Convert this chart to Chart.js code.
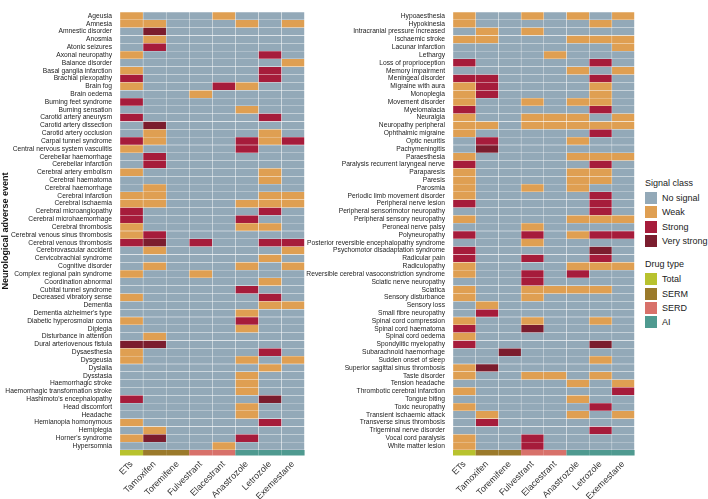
<!DOCTYPE html>
<html>
<head>
<meta charset="utf-8">
<script src="https://cdn.jsdelivr.net/npm/chart.js@4.4.1/dist/chart.umd.min.js"></script>
<style>
  body{margin:0;background:#fff;font-family:"Liberation Sans",Arial,sans-serif;}
  #wrap{position:relative;width:708px;height:499px;overflow:hidden;}
  canvas{position:absolute;top:0;}
  #legend{position:absolute;left:645px;top:177px;font-size:9px;color:#222;}
  .lg-title{height:12px;line-height:12px;margin-bottom:2px;}
  .lg-row{display:flex;align-items:center;height:14.3px;}
  .lg-sw{width:12px;height:12px;margin-right:5px;}
  .lg-gap{height:10px;}
</style>
</head>
<body>
<div id="wrap">
  <canvas id="leftChart" width="310" height="499" style="left:0"></canvas>
  <canvas id="rightChart" width="360" height="499" style="left:280px"></canvas>
  <div id="legend"></div>
</div>
<script>
// === DATI ===
const drugs = ["ETs","Tamoxifen","Toremifene","Fulvestrant","Elacestrant","Anastrozole","Letrozole","Exemestane"];
const drugTypes = ["Total","SERM","SERM","SERD","SERD","AI","AI","AI"];
const signalLabels = ["No signal","Weak","Strong","Very strong"];
const signalColors = ["#93a9b8","#df9f52","#a61c3b","#7b1d2e"];
const typeLabels = ["Total","SERM","SERD","AI"];
const typeColors = ["#b8c22e","#9b7a2b","#d8716a","#4f9a90"];

const leftEvents = ["Ageusia","Amnesia","Amnestic disorder","Anosmia","Atonic seizures","Axonal neuropathy",
  "Balance disorder","Basal ganglia infarction","Brachial plexopathy","Brain fog","Brain oedema",
  "Burning feet syndrome","Burning sensation","Carotid artery aneurysm","Carotid artery dissection",
  "Carotid artery occlusion","Carpal tunnel syndrome","Central nervous system vasculitis",
  "Cerebellar haemorrhage","Cerebellar infarction","Cerebral artery embolism","Cerebral haematoma",
  "Cerebral haemorrhage","Cerebral infarction","Cerebral ischaemia","Cerebral microangiopathy",
  "Cerebral microhaemorrhage","Cerebral thrombosis","Cerebral venous sinus thrombosis",
  "Cerebral venous thrombosis","Cerebrovascular accident","Cervicobrachial syndrome","Cognitive disorder",
  "Complex regional pain syndrome","Coordination abnormal","Cubital tunnel syndrome",
  "Decreased vibratory sense","Dementia","Dementia alzheimer's type","Diabetic hyperosmolar coma",
  "Diplegia","Disturbance in attention","Dural arteriovenous fistula","Dysaesthesia","Dysgeusia",
  "Dyslalia","Dysstasia","Haemorrhagic stroke","Haemorrhagic transformation stroke",
  "Hashimoto's encephalopathy","Head discomfort","Headache","Hemianopia homonymous","Hemiplegia",
  "Horner's syndrome","Hypersomnia"];

const rightEvents = ["Hypoaesthesia","Hypokinesia","Intracranial pressure increased","Ischaemic stroke",
  "Lacunar infarction","Lethargy","Loss of proprioception","Memory impairment","Meningeal disorder",
  "Migraine with aura","Monoplegia","Movement disorder","Myelomalacia","Neuralgia","Neuropathy peripheral",
  "Ophthalmic migraine","Optic neuritis","Pachymeningitis","Paraesthesia",
  "Paralysis recurrent laryngeal nerve","Paraparesis","Paresis","Parosmia",
  "Periodic limb movement disorder","Peripheral nerve lesion","Peripheral sensorimotor neuropathy",
  "Peripheral sensory neuropathy","Peroneal nerve palsy","Polyneuropathy",
  "Posterior reversible encephalopathy syndrome","Psychomotor disadaptation syndrome","Radicular pain",
  "Radiculopathy","Reversible cerebral vasoconstriction syndrome","Sciatic nerve neuropathy","Sciatica",
  "Sensory disturbance","Sensory loss","Small fibre neuropathy","Spinal cord compression",
  "Spinal cord haematoma","Spinal cord oedema","Spondylitic myelopathy","Subarachnoid haemorrhage",
  "Sudden onset of sleep","Superior sagittal sinus thrombosis","Taste disorder","Tension headache",
  "Thrombotic cerebral infarction","Tongue biting","Toxic neuropathy","Transient ischaemic attack",
  "Transverse sinus thrombosis","Trigeminal nerve disorder","Vocal cord paralysis","White matter lesion"];

// 0 = no signal, 1 = weak, 2 = strong, 3 = very strong (one row per event, one column per drug)
const leftSignals = [
  [1,0,0,0,1,0,0,0],[1,1,0,0,0,1,0,1],[0,3,0,0,0,0,0,0],[0,1,0,0,0,0,0,0],[0,2,0,0,0,0,0,0],
  [1,0,0,0,0,0,2,0],[0,0,0,0,0,0,0,1],[1,0,0,0,0,0,2,0],[2,0,0,0,0,0,2,0],[1,0,0,0,2,1,0,0],
  [0,0,0,1,0,0,0,0],[2,0,0,0,0,0,0,0],[0,0,0,0,0,1,0,0],[2,0,0,0,0,0,2,0],[0,3,0,0,0,0,0,0],
  [0,1,0,0,0,0,1,0],[2,1,0,0,0,2,1,2],[1,0,0,0,0,2,0,0],[0,2,0,0,0,0,0,0],[0,2,0,0,0,0,0,0],
  [1,0,0,0,0,0,1,0],[0,0,0,0,0,0,1,0],[0,1,0,0,0,0,0,0],[1,1,0,0,0,0,1,1],[1,1,0,0,0,1,1,1],
  [2,0,0,0,0,0,2,0],[2,0,0,0,0,2,0,0],[1,0,0,0,0,1,1,0],[1,2,0,0,0,0,0,0],[2,3,0,2,0,0,2,2],
  [0,1,0,0,0,0,0,1],[0,0,0,0,0,0,1,0],[0,1,0,0,0,1,0,1],[1,0,0,1,0,0,0,0],[0,0,0,0,0,0,1,0],
  [0,0,0,0,0,2,0,0],[1,0,0,0,0,0,2,0],[0,0,0,0,0,0,1,1],[0,0,0,0,0,1,0,0],[1,0,0,0,0,2,0,0],
  [0,0,0,0,0,1,0,0],[0,1,0,0,0,0,0,0],[3,3,0,0,0,0,0,0],[1,0,0,0,0,0,2,0],[1,0,0,0,0,1,0,1],
  [0,0,0,0,0,0,1,0],[0,0,0,0,0,1,0,0],[0,0,0,0,0,1,0,0],[0,0,0,0,0,1,0,0],[2,0,0,0,0,0,3,0],
  [0,0,0,0,0,1,0,0],[0,0,0,0,0,1,0,0],[1,0,0,0,0,0,2,0],[0,1,0,0,0,0,0,0],[1,3,0,0,0,2,0,0],
  [0,0,0,0,1,0,0,0]];

const rightSignals = [
  [1,0,0,1,0,1,0,1],[1,0,0,0,0,0,1,0],[0,1,0,1,0,0,0,0],[1,1,0,0,0,1,1,1],[0,0,0,0,0,0,0,1],
  [0,0,0,0,1,0,0,0],[2,0,0,0,0,0,2,0],[0,0,0,0,0,1,0,1],[2,2,0,0,0,0,2,0],[1,2,0,0,0,0,1,0],
  [1,2,0,0,0,0,1,0],[1,0,0,1,0,1,1,0],[2,0,0,0,0,0,2,0],[1,0,0,1,1,1,0,1],[1,1,0,1,1,1,1,1],
  [1,0,0,0,0,0,2,0],[0,2,0,0,0,1,0,0],[0,3,0,0,0,0,0,0],[1,0,0,0,0,1,1,1],[2,0,0,0,0,0,2,0],
  [1,0,0,0,0,1,1,0],[1,0,0,0,0,1,1,0],[1,0,0,1,0,1,0,0],[1,0,0,0,0,0,2,0],[2,0,0,0,0,0,2,0],
  [0,0,0,0,0,0,2,0],[1,0,0,0,0,1,1,1],[0,0,0,1,0,0,0,0],[2,0,0,2,0,1,2,2],[0,0,0,1,0,0,0,0],
  [2,0,0,0,0,0,3,0],[2,0,0,2,0,0,2,0],[1,0,0,0,0,1,1,1],[1,0,0,2,0,2,0,0],[0,0,0,2,0,0,0,0],
  [1,0,0,1,1,1,1,0],[1,0,0,1,0,0,0,0],[0,1,0,0,0,0,0,0],[0,2,0,0,0,0,0,0],[1,0,0,1,0,0,1,0],
  [2,0,0,3,0,0,0,0],[1,0,0,0,0,0,0,0],[2,0,0,0,0,0,3,0],[0,0,3,0,0,0,0,0],[0,0,0,0,0,0,1,0],
  [1,3,0,0,0,0,0,0],[1,0,0,1,1,0,1,0],[0,0,0,0,0,1,0,1],[1,0,0,0,0,0,0,2],[0,0,0,0,0,1,0,0],
  [1,0,0,0,0,0,2,0],[0,1,0,0,0,1,0,1],[0,2,0,0,0,0,0,0],[0,0,0,0,0,0,2,0],[1,0,0,2,0,0,0,0],
  [1,0,0,2,0,0,0,0]];

const FONT = "'Liberation Sans', Arial, sans-serif";

// === STRISCIA TIPO FARMACO (sotto l'area del grafico) ===
const drugStrip = {
  id:"drugStrip",
  afterDatasetsDraw(chart){
    const {ctx,chartArea,scales:{x}} = chart;
    ctx.save();
    drugTypes.forEach((t,i)=>{
      const x0=x.getPixelForValue(i), x1=x.getPixelForValue(i+1);
      ctx.fillStyle=typeColors[typeLabels.indexOf(t)];
      ctx.fillRect(x0,chartArea.bottom,x1-x0,5.5);
    });
    ctx.restore();
  }
};

// === DATASET: una colonna per farmaco ===
function buildDatasets(signals){
  return drugs.map((d,c)=>({
    label:d,
    data:signals.map(()=>[c,c+1]),
    backgroundColor:signals.map(r=>signalColors[r[c]]),
    borderColor:"rgba(255,255,255,0.22)",
    borderWidth:0.5,
    borderSkipped:false,
    grouped:false,
    barPercentage:1,
    categoryPercentage:1
  }));
}

function makeHeatmap(id,events,signals,labelWidth,rightPad,showTitle){
  return new Chart(document.getElementById(id),{
    type:"bar",
    data:{labels:events,datasets:buildDatasets(signals)},
    plugins:[drugStrip],
    options:{
      indexAxis:"y",
      responsive:false,
      animation:false,
      layout:{padding:{top:2,right:rightPad,left:0,bottom:0}},
      plugins:{legend:{display:false},tooltip:{enabled:false}},
      scales:{
        x:{
          type:"linear",min:0,max:drugs.length,
          grid:{display:false,drawTicks:false},
          border:{display:false},
          afterBuildTicks:s=>{s.ticks=drugs.map((d,i)=>({value:i+0.5}));},
          afterFit:s=>{s.height=49;},
          ticks:{
            autoSkip:false,minRotation:45,maxRotation:45,padding:9,
            color:"#333",font:{family:FONT,size:9},
            callback:v=>drugs[Math.floor(v)]
          }
        },
        y:{
          grid:{display:false,drawTicks:false},
          border:{display:false},
          afterFit:s=>{s.width=labelWidth;},
          ticks:{autoSkip:false,padding:8,color:"#222",font:{family:FONT,size:6.7}},
          title:{display:showTitle,text:"Neurological adverse event",color:"#111",
            padding:{top:0,bottom:2},font:{family:FONT,size:9,weight:"bold"}}
        }
      }
    }
  });
}

// === LEGENDA ===
function buildLegend(){
  const el=document.getElementById("legend");
  let html='<div class="lg-title">Signal class</div>';
  signalLabels.forEach((l,i)=>{html+=`<div class="lg-row"><div class="lg-sw" style="background:${signalColors[i]}"></div>${l}</div>`;});
  html+='<div class="lg-gap"></div><div class="lg-title">Drug type</div>';
  typeLabels.forEach((l,i)=>{html+=`<div class="lg-row"><div class="lg-sw" style="background:${typeColors[i]}"></div>${l}</div>`;});
  el.innerHTML=html;
}

makeHeatmap("leftChart",leftEvents,leftSignals,120,5,true);
makeHeatmap("rightChart",rightEvents,rightSignals,173,2,false);
buildLegend();
</script>
</body>
</html>
